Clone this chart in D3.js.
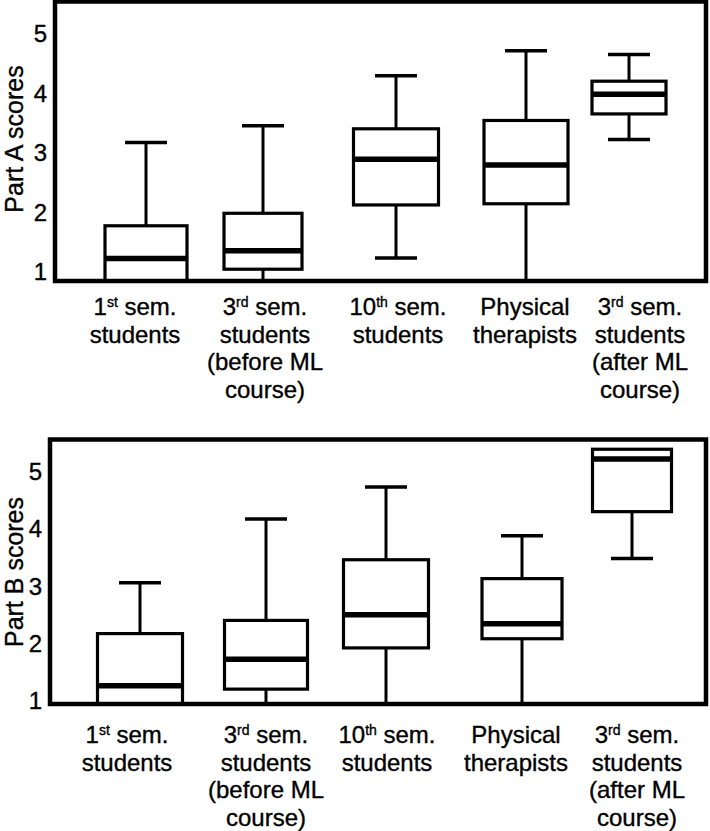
<!DOCTYPE html>
<html>
<head>
<meta charset="utf-8">
<script src="https://cdn.jsdelivr.net/npm/d3@7"></script>
<style>
  html, body { margin: 0; padding: 0; background: #fff; }
  svg { display: block; }
  text { font-family: "Liberation Sans", Arial, Helvetica, sans-serif; fill: #000; stroke: #000; stroke-width: 0.35px; }
</style>
</head>
<body>
<svg id="chart" width="710" height="831"></svg>
<script>
// ---------------- data ----------------
const categories = [
  "1st sem. students",
  "3rd sem. students (before ML course)",
  "10th sem. students",
  "Physical therapists",
  "3rd sem. students (after ML course)"
];
// label lines; ^xx^ marks a superscript
const categoryLines = [
  ["1^st^ sem.", "students"],
  ["3^rd^ sem.", "students", "(before ML", "course)"],
  ["10^th^ sem.", "students"],
  ["Physical", "therapists"],
  ["3^rd^ sem.", "students", "(after ML", "course)"]
];
const yTicks = [1, 2, 3, 4, 5];

// Part A scores
const aMin = [0.80, 0.80, 1.22, 0.80, 3.21];
const aQ1  = [0.80, 1.03, 2.11, 2.13, 3.64];
const aMed = [1.21, 1.34, 2.88, 2.78, 3.97];
const aQ3  = [1.76, 1.97, 3.39, 3.53, 4.19];
const aMax = [3.16, 3.44, 4.28, 4.70, 4.64];

// Part B scores
const bMin = [0.85, 0.85, 0.85, 0.85, 3.47];
const bQ1  = [0.85, 1.19, 1.91, 2.07, 4.29];
const bMed = [1.25, 1.71, 2.49, 2.33, 5.21];
const bQ3  = [2.16, 2.39, 3.45, 3.12, 5.38];
const bMax = [3.05, 4.16, 4.72, 3.87, 5.38];

// ---------------- layout ----------------
const svg = d3.select("#chart");

const panels = [
  {
    id: "A", title: "Part A scores",
    frame: {x: 55, y: 1.5, w: 651, h: 279.5},
    yRange: [271, 33],
    boxX: [146, 263, 396, 526, 629],
    boxW: [82, 78, 85, 84, 74],
    labelX: [135, 265, 398, 525, 640],
    labelY: 315,
    tickRight: 47,
    titleX: 23, titleY: 139,
    stats: {min: aMin, q1: aQ1, med: aMed, q3: aQ3, max: aMax}
  },
  {
    id: "B", title: "Part B scores",
    frame: {x: 50, y: 439.5, w: 656, h: 264.5},
    yRange: [700, 471],
    boxX: [140, 266, 386, 522, 632],
    boxW: [85, 83, 85, 80, 79],
    labelX: [127, 266, 387, 516, 637],
    labelY: 743,
    tickRight: 42,
    titleX: 23, titleY: 572,
    stats: {min: bMin, q1: bQ1, med: bMed, q3: bQ3, max: bMax}
  }
];

const capW = 42;
const lineH = 27.5;

panels.forEach(p => {
  const y = d3.scaleLinear().domain([1, 5]).range(p.yRange);
  const x = d3.scaleOrdinal().domain(categories).range(p.boxX);
  const w = d3.scaleOrdinal().domain(categories).range(p.boxW);
  const lx = d3.scaleOrdinal().domain(categories).range(p.labelX);
  const f = p.frame;

  const clipId = "clip" + p.id;
  svg.append("clipPath").attr("id", clipId)
    .append("rect").attr("x", f.x).attr("y", f.y).attr("width", f.w).attr("height", f.h);

  const g = svg.append("g").attr("clip-path", `url(#${clipId})`);

  const rows = categories.map((c, i) => ({
    c, min: p.stats.min[i], q1: p.stats.q1[i], med: p.stats.med[i],
    q3: p.stats.q3[i], max: p.stats.max[i]
  }));

  const box = g.selectAll("g.box").data(rows).join("g").attr("class", "box");

  // upper whisker
  box.filter(d => d.max > d.q3).append("line")
    .attr("x1", d => x(d.c)).attr("x2", d => x(d.c))
    .attr("y1", d => y(d.q3)).attr("y2", d => y(d.max))
    .attr("stroke", "#000").attr("stroke-width", 3);
  box.filter(d => d.max > d.q3).append("line")
    .attr("x1", d => x(d.c) - capW / 2).attr("x2", d => x(d.c) + capW / 2)
    .attr("y1", d => y(d.max)).attr("y2", d => y(d.max))
    .attr("stroke", "#000").attr("stroke-width", 3.5);

  // lower whisker
  box.filter(d => d.min < d.q1).append("line")
    .attr("x1", d => x(d.c)).attr("x2", d => x(d.c))
    .attr("y1", d => y(d.q1)).attr("y2", d => y(d.min))
    .attr("stroke", "#000").attr("stroke-width", 3);
  box.filter(d => d.min < d.q1).append("line")
    .attr("x1", d => x(d.c) - capW / 2).attr("x2", d => x(d.c) + capW / 2)
    .attr("y1", d => y(d.min)).attr("y2", d => y(d.min))
    .attr("stroke", "#000").attr("stroke-width", 3.5);

  // box
  box.append("rect")
    .attr("x", d => x(d.c) - w(d.c) / 2)
    .attr("width", d => w(d.c))
    .attr("y", d => y(d.q3))
    .attr("height", d => y(d.q1) - y(d.q3))
    .attr("fill", "#fff").attr("stroke", "#000").attr("stroke-width", 3.2);

  // median
  box.append("line")
    .attr("x1", d => x(d.c) - w(d.c) / 2).attr("x2", d => x(d.c) + w(d.c) / 2)
    .attr("y1", d => y(d.med)).attr("y2", d => y(d.med))
    .attr("stroke", "#000").attr("stroke-width", 5.5);

  // frame
  svg.append("rect")
    .attr("x", f.x).attr("y", f.y).attr("width", f.w).attr("height", f.h)
    .attr("fill", "none").attr("stroke", "#000").attr("stroke-width", 4.5);

  // y axis (labels only)
  const yAxis = d3.axisLeft(y).tickValues(yTicks).tickSize(0).tickPadding(0).tickFormat(d3.format("d"));
  const ga = svg.append("g").attr("transform", `translate(${p.tickRight},0)`).call(yAxis);
  ga.select(".domain").remove();
  ga.selectAll("text")
    .style("font-family", '"Liberation Sans", Arial, Helvetica, sans-serif')
    .style("font-size", "24px").attr("fill", "#000").attr("dy", "0.36em");

  // y title
  svg.append("text")
    .attr("transform", `translate(${p.titleX},${p.titleY}) rotate(-90)`)
    .attr("text-anchor", "middle")
    .style("font-size", "25px")
    .text(p.title);

  // category labels
  categories.forEach((c, i) => {
    categoryLines[i].forEach((line, k) => {
      const t = svg.append("text")
        .attr("x", lx(c)).attr("y", p.labelY + k * lineH)
        .attr("text-anchor", "middle")
        .style("font-size", "24px");
      const parts = line.split("^");
      parts.forEach((part, j) => {
        if (part === "") return;
        if (j % 2 === 1) {
          t.append("tspan").attr("dy", -8).style("font-size", "14px").text(part);
        } else {
          const ts = t.append("tspan").text(part);
          if (j > 0) ts.attr("dy", 8);
        }
      });
    });
  });
});
</script>
</body>
</html>
